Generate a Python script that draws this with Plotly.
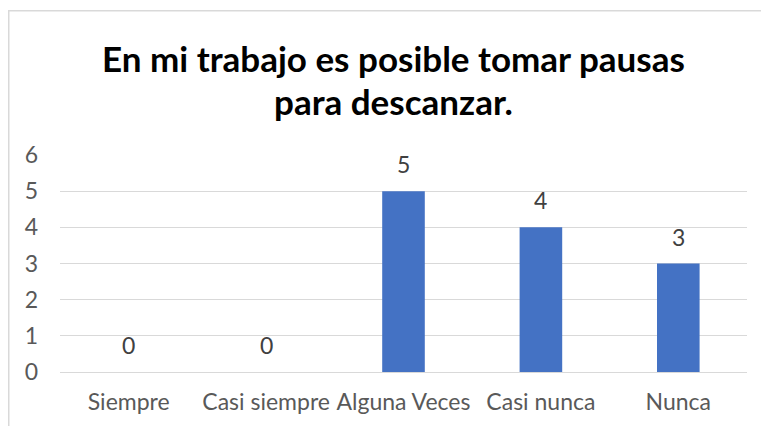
import plotly.graph_objects as go

categories = ["Siempre", "Casi siempre", "Alguna Veces", "Casi nunca", "Nunca"]
values = [0, 0, 5, 4, 3]
y_ticks = [0, 1, 2, 3, 4, 5, 6]
title_lines = ["En mi trabajo es posible tomar pausas", "para descanzar."]

# page has an 8px body margin, so work in figure coords = reference - 8
OFF = 8
W, H = 769 - OFF, 426 - OFF
L, R, T, B = 60 - OFF, 22, 155 - OFF, 54
pw = W - L - R
ph = H - T - B

fig = go.Figure()
fig.add_trace(go.Bar(
    x=categories, y=values,
    marker=dict(color="#4472C4", line=dict(width=0)),
    width=0.31,
    hoverinfo="x+y",
))

def px(xp):
    return (xp - OFF - L) / pw

def py(yp):
    return (H - B - (yp - OFF)) / ph

annotations = [
    dict(text="<b>%s</b>" % title_lines[0], xref="paper", yref="paper",
         x=px(393), y=py(58), xanchor="center", yanchor="middle", showarrow=False,
         font=dict(family="Lato", size=35, color="black")),
    dict(text="<b>%s</b>" % title_lines[1], xref="paper", yref="paper",
         x=px(393), y=py(101), xanchor="center", yanchor="middle", showarrow=False,
         font=dict(family="Lato", size=35, color="black")),
]
for c, v in zip(categories, values):
    annotations.append(dict(
        text=str(v), x=c, y=v, xref="x", yref="y", showarrow=False,
        xanchor="center", yanchor="middle", yshift=27,
        font=dict(family="Lato", size=23, color="#404040")))

fig.update_layout(
    width=W, height=H,
    margin=dict(l=L, r=R, t=T, b=B),
    paper_bgcolor="white", plot_bgcolor="white",
    showlegend=False,
    bargap=0.69,
    font=dict(family="Lato", color="#595959"),
    xaxis=dict(showgrid=False, showline=False, ticks="", zeroline=False,
               ticklabelstandoff=14,
               tickfont=dict(family="Lato", size=23, color="#595959")),
    yaxis=dict(range=[0, 6], tickvals=y_ticks, showgrid=True, gridcolor="#d9d9d9",
               gridwidth=1, zeroline=True, zerolinecolor="#d9d9d9", zerolinewidth=1,
               showline=False, ticks="", ticklabelstandoff=21,
               tickfont=dict(family="Lato", size=23, color="#595959")),
    shapes=[dict(type="rect", xref="paper", yref="paper",
                 x0=px(8.75), x1=px(790), y0=py(460), y1=py(10.75),
                 line=dict(color="#d9d9d9", width=1.5), fillcolor="rgba(0,0,0,0)")],
    annotations=annotations,
)

fig.write_html("out.html")
